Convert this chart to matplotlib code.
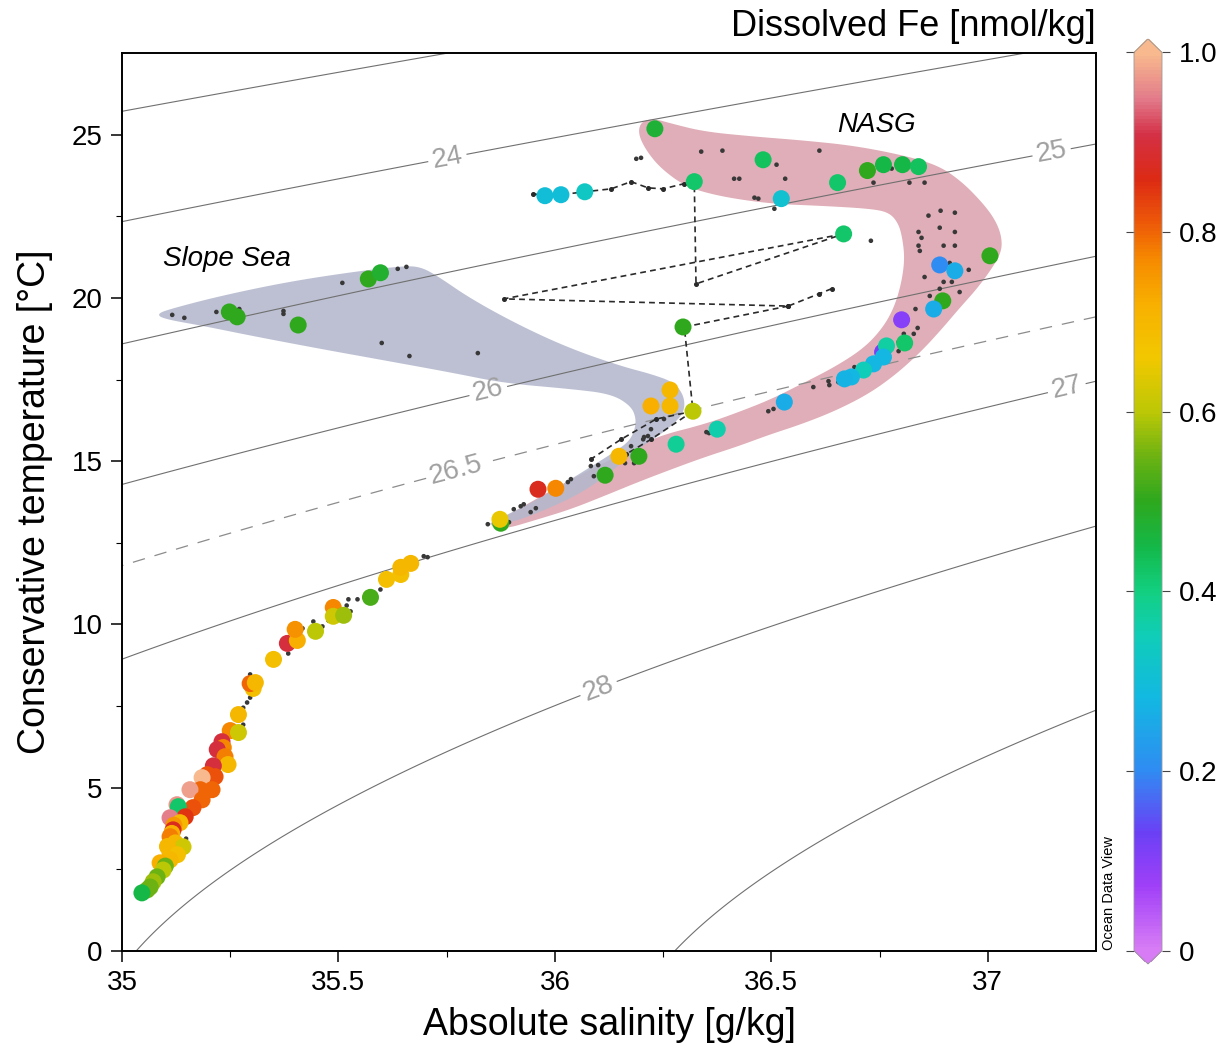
import numpy as np
import matplotlib
matplotlib.use("Agg")
import matplotlib.pyplot as plt
from matplotlib.colors import LinearSegmentedColormap, Normalize
from matplotlib.patches import Polygon
import matplotlib.cm as cm

plt.rcParams['font.family'] = ['Liberation Sans', 'DejaVu Sans']

# ---------------- data ----------------
# Coloured samples: absolute salinity [g/kg], conservative temperature [degC], dissolved Fe [nmol/kg]
fe_sal = [
    # deep / intermediate cluster
    35.269, 35.250, 35.269, 35.231, 35.234, 35.220, 35.238, 35.245, 35.211, 35.197,
    35.215, 35.185, 35.181, 35.208, 35.157, 35.185, 35.164, 35.127, 35.130, 35.146,
    35.111, 35.134, 35.120, 35.118, 35.115, 35.111, 35.123, 35.141, 35.105, 35.111,
    35.128, 35.111, 35.088, 35.100, 35.095, 35.081, 35.072, 35.065, 35.058, 35.046,
    # lower branch
    35.303, 35.296, 35.308, 35.350, 35.382, 35.405, 35.400, 35.447, 35.488, 35.488,
    35.512, 35.574, 35.611, 35.644, 35.644, 35.667,
    # slope sea
    35.248, 35.266, 35.407, 35.569, 35.597,
    # cyan station
    35.977, 36.014, 36.069,
    # NASG upper
    36.231, 36.322, 36.481, 36.523, 36.653, 36.722, 36.759, 36.803, 36.840, 37.005,
    36.667,
    # NASG lower
    36.889, 36.924, 36.896, 36.875, 36.801, 36.808, 36.757, 36.766, 36.759, 36.736,
    36.713, 36.685, 36.669, 36.530, 36.375, 36.280,
    # middle / tip
    36.296, 36.319, 36.266, 36.222, 36.266, 36.194, 36.148, 36.116, 36.002, 35.961,
    35.875, 35.873,
]
fe_temp = [
    7.24, 6.75, 6.69, 6.41, 6.23, 6.17, 5.95, 5.71, 5.67, 5.40,
    5.34, 5.31, 4.94, 4.94, 4.94, 4.63, 4.39, 4.48, 4.42, 4.11,
    4.08, 3.93, 3.85, 3.71, 3.60, 3.50, 3.31, 3.19, 3.20, 3.01,
    2.95, 2.79, 2.70, 2.60, 2.48, 2.27, 2.12, 1.96, 1.87, 1.78,
    8.04, 8.19, 8.22, 8.93, 9.42, 9.51, 9.85, 9.79, 10.52, 10.25,
    10.28, 10.83, 11.38, 11.53, 11.75, 11.87,
    19.57, 19.42, 19.17, 20.58, 20.77,
    23.13, 23.16, 23.25,
    25.18, 23.56, 24.23, 23.04, 23.53, 23.90, 24.08, 24.08, 24.02, 21.29,
    21.96,
    21.01, 20.83, 19.91, 19.66, 19.33, 18.62, 18.34, 18.53, 18.19, 17.98,
    17.79, 17.58, 17.52, 16.81, 15.98, 15.52,
    19.11, 16.53, 17.18, 16.69, 16.69, 15.15, 15.15, 14.57, 14.17, 14.14,
    13.10, 13.22,
]
fe_val = [
    0.70, 0.77, 0.62, 0.90, 0.77, 0.90, 0.78, 0.70, 0.90, 0.82,
    0.82, 1.00, 0.80, 0.80, 0.98, 0.80, 0.82, 0.97, 0.42, 0.85,
    0.95, 0.70, 0.75, 0.87, 0.72, 0.78, 0.70, 0.62, 0.70, 0.70,
    0.68, 0.70, 0.72, 0.55, 0.60, 0.55, 0.58, 0.55, 0.55, 0.45,
    0.68, 0.80, 0.70, 0.68, 0.90, 0.72, 0.76, 0.60, 0.77, 0.62,
    0.58, 0.52, 0.68, 0.68, 0.70, 0.70,
    0.50, 0.50, 0.50, 0.50, 0.48,
    0.30, 0.30, 0.33,
    0.47, 0.42, 0.43, 0.31, 0.42, 0.50, 0.45, 0.45, 0.43, 0.50,
    0.42,
    0.20, 0.26, 0.50, 0.26, 0.10, 0.42, 0.12, 0.37, 0.28, 0.28,
    0.35, 0.28, 0.27, 0.26, 0.36, 0.38,
    0.50, 0.60, 0.70, 0.72, 0.70, 0.50, 0.70, 0.50, 0.77, 0.87,
    0.50, 0.65,
]

# Samples without Fe (small black dots)
dot_sal = [
    35.116, 35.144, 35.218, 35.271, 35.373, 35.373, 35.509, 35.637, 35.657, 35.600,
    35.664, 35.822,
    36.188, 36.199, 36.338, 36.387, 36.611, 36.512, 36.414, 36.426, 36.532, 36.461,
    36.470, 36.507, 36.736, 36.819, 36.854, 36.778, 36.891, 36.924, 36.863, 36.889,
    36.924, 36.840, 36.847, 36.840, 36.843, 36.898, 36.924, 36.912, 36.956, 36.854,
    36.898, 36.917, 36.935, 36.889, 36.866, 36.833, 36.838, 36.806, 36.829, 36.794,
    36.794, 36.692, 36.597, 36.632, 36.634, 36.655, 36.493, 36.505, 36.350, 36.356,
    36.252, 36.222, 36.206, 36.215, 36.204, 36.176, 36.162, 36.183, 36.083, 36.100,
    36.090, 36.037, 36.030, 35.928, 35.921, 35.905, 35.944, 35.956, 35.845, 35.894,
    36.730,
    35.697, 35.706, 35.597, 35.544, 35.523, 35.519, 35.528, 35.477, 35.463, 35.442,
    35.417, 35.384, 35.296, 35.289, 35.296, 35.280, 35.280, 35.148,
]
dot_temp = [
    19.48, 19.39, 19.57, 19.66, 19.60, 19.51, 20.46, 20.89, 20.95, 18.62,
    18.22, 18.31,
    24.26, 24.29, 24.48, 24.51, 24.51, 24.08, 23.65, 23.65, 23.65, 23.07,
    23.04, 22.73, 23.53, 23.53, 23.53, 23.96, 22.67, 22.61, 22.52, 22.15,
    22.02, 22.02, 21.84, 21.60, 21.44, 21.60, 21.60, 21.07, 20.86, 20.64,
    20.49, 20.49, 20.18, 20.28, 20.06, 19.66, 19.08, 18.90, 18.90, 18.65,
    18.37, 17.88, 17.27, 17.45, 17.33, 17.42, 16.53, 16.60, 15.89, 15.86,
    16.29, 15.98, 15.74, 15.77, 15.67, 15.46, 14.94, 14.94, 14.85, 14.88,
    14.54, 14.45, 14.36, 13.68, 13.62, 13.53, 13.44, 13.56, 13.07, 13.13,
    21.75,
    12.09, 12.06, 11.07, 10.77, 10.77, 10.58, 10.40, 10.12, 9.94, 10.09,
    9.88, 9.11, 8.47, 7.61, 7.76, 7.45, 6.93, 3.44,
]

# Dashed station profiles
prof1_sal = [35.949, 35.977, 36.014, 36.069, 36.130, 36.176, 36.215, 36.250, 36.299, 36.322, 36.326, 36.667]
prof1_temp = [23.19, 23.13, 23.16, 23.25, 23.34, 23.56, 23.37, 23.34, 23.50, 23.56, 20.43, 21.96]
prof2_sal = [36.639, 36.609, 36.539, 35.882, 36.667]
prof2_temp = [20.28, 20.12, 19.75, 19.97, 21.96]
prof3_sal = [36.539, 36.299, 36.319, 36.234, 36.153, 36.083]
prof3_temp = [19.75, 19.11, 16.53, 16.29, 15.67, 15.06]
prof4_sal = [36.319, 36.222, 36.164]
prof4_temp = [16.53, 15.67, 15.21]

# Water-mass envelopes
slope_sal = [35.081, 35.111, 35.227, 35.382, 35.535, 35.650, 35.690, 35.729, 35.806, 35.921,
             36.037, 36.153, 36.222, 36.275, 36.299, 36.299, 36.269, 36.238, 36.192, 36.146,
             36.076, 35.998, 35.905, 35.836, 35.882, 35.961, 36.037, 36.100, 36.137, 36.169,
             36.183, 36.188, 36.176, 36.130, 36.037, 35.882, 35.766, 35.613, 35.458, 35.303,
             35.188, 35.095]
slope_temp = [19.51, 19.66, 20.06, 20.49, 20.80, 20.98, 20.95, 20.67, 19.97, 19.14,
              18.44, 17.91, 17.67, 17.42, 16.99, 16.50, 16.07, 15.77, 15.37, 14.85,
              14.14, 13.62, 13.13, 13.01, 13.31, 13.83, 14.45, 14.97, 15.28, 15.58,
              15.89, 16.29, 16.69, 17.06, 17.21, 17.39, 17.70, 18.07, 18.44, 18.83,
              19.14, 19.36]
nasg_sal = [36.199, 36.229, 36.269, 36.345, 36.461, 36.576, 36.692, 36.808, 36.887, 36.940,
            36.986, 37.016, 37.032, 37.032, 37.009, 36.975, 36.933, 36.894, 36.847, 36.789,
            36.725, 36.646, 36.569, 36.493, 36.424, 36.345, 36.269, 36.192, 36.113, 36.037,
            35.961, 35.882, 35.847, 35.875, 35.968, 36.060, 36.153, 36.238, 36.345, 36.424,
            36.500, 36.569, 36.646, 36.715, 36.759, 36.785, 36.801, 36.808, 36.803, 36.794,
            36.773, 36.731, 36.616, 36.500, 36.384, 36.303, 36.245, 36.211, 36.192]
nasg_temp = [25.40, 25.49, 25.34, 25.09, 24.94, 24.82, 24.66, 24.36, 24.05, 23.56,
             22.94, 22.42, 21.90, 21.41, 20.89, 20.28, 19.66, 19.05, 18.37, 17.67,
             17.06, 16.53, 16.13, 15.80, 15.46, 15.12, 14.75, 14.36, 13.93, 13.53,
             13.22, 12.91, 13.01, 13.22, 13.93, 14.60, 15.21, 15.77, 16.13, 16.50,
             16.90, 17.36, 17.88, 18.47, 19.11, 19.75, 20.49, 21.20, 21.81, 22.27,
             22.61, 22.73, 22.82, 22.88, 23.10, 23.40, 23.96, 24.51, 25.03]

sigma_levels_labelled = [24, 25, 26, 27, 28]
sigma_levels_plain = [23, 29]
sigma_level_dashed = [26.5]
x_ticks = [35, 35.5, 36, 36.5, 37]
x_ticklabels = ['35', '35.5', '36', '36.5', '37']
y_ticks = [0, 5, 10, 15, 20, 25]
cbar_ticks = [0, 0.2, 0.4, 0.6, 0.8, 1.0]
cbar_ticklabels = ['0', '0.2', '0.4', '0.6', '0.8', '1.0']

# ---------------- helpers ----------------
def sigma0(SA, CT):
    SP = SA * 35.0 / 35.16504
    T = CT
    rho_w = (999.842594 + 6.793952e-2 * T - 9.095290e-3 * T**2 + 1.001685e-4 * T**3
             - 1.120083e-6 * T**4 + 6.536332e-9 * T**5)
    A = 0.824493 - 4.0899e-3 * T + 7.6438e-5 * T**2 - 8.2467e-7 * T**3 + 5.3875e-9 * T**4
    B = -5.72466e-3 + 1.0227e-4 * T - 1.6546e-6 * T**2
    C = 4.8314e-4
    return rho_w + A * SP + B * SP**1.5 + C * SP**2 - 1000.0


def chaikin(x, y, n=3):
    pts = np.column_stack([x, y]).astype(float)
    for _ in range(n):
        nxt = np.roll(pts, -1, axis=0)
        q = 0.75 * pts + 0.25 * nxt
        r = 0.25 * pts + 0.75 * nxt
        new = np.empty((2 * len(pts), 2))
        new[0::2] = q
        new[1::2] = r
        pts = new
    return pts


cmap = LinearSegmentedColormap.from_list('odv', [
    (0.00, '#d77cf5'), (0.07, '#a040f8'), (0.13, '#6a40f5'), (0.20, '#2f8cf2'),
    (0.28, '#12b8e2'), (0.35, '#10cdb8'), (0.40, '#12cf80'), (0.45, '#14b848'),
    (0.50, '#2ea81e'), (0.55, '#6cb212'), (0.60, '#bcc806'), (0.66, '#f2c800'),
    (0.72, '#f8b000'), (0.77, '#f68a00'), (0.81, '#ee5a08'), (0.86, '#dc2a14'),
    (0.91, '#d43046'), (0.95, '#e27a8a'), (1.00, '#f8b98e')])
norm = Normalize(0, 1)

# ---------------- figure ----------------
W, H = 1223, 1048
fig = plt.figure(figsize=(W / 100, H / 100), dpi=100)
ax = fig.add_axes([122 / W, 1 - 951 / H, 974 / W, 898 / H])
ax.set_xlim(35, 37.25)
ax.set_ylim(0, 27.5)

# envelopes
ax.add_patch(Polygon(chaikin(nasg_sal, nasg_temp), closed=True, facecolor='#e0aeb8',
                     edgecolor='none', zorder=0.5))
ax.add_patch(Polygon(chaikin(slope_sal, slope_temp), closed=True, facecolor='#b4b8cc',
                     edgecolor='none', alpha=0.88, zorder=0.6))

# density contours
sg = np.linspace(35, 37.25, 400)
tg = np.linspace(0, 27.5, 400)
SS, TT = np.meshgrid(sg, tg)
D = sigma0(SS, TT)
cs = ax.contour(SS, TT, D, levels=sigma_levels_labelled, colors='#707070', linewidths=0.8, zorder=1)
ax.contour(SS, TT, D, levels=sigma_levels_plain, colors='#707070', linewidths=0.8, zorder=1)
cs2 = ax.contour(SS, TT, D, levels=sigma_level_dashed, colors='#8c8c8c', linewidths=0.9,
                 linestyles=[(0, (10, 8))], zorder=1)
ax.clabel(cs, fmt='%g', fontsize=20, colors='#a0a0a0', inline=True, inline_spacing=4,
          manual=[(35.752, 24.26), (37.148, 24.42), (35.845, 17.21), (37.183, 17.21), (36.100, 8.07)])
ax.clabel(cs2, fmt='%g', fontsize=20, colors='#a0a0a0', inline=True,
          inline_spacing=4, manual=[(35.771, 14.75)])

# profiles
for xs, ys in [(prof1_sal, prof1_temp), (prof2_sal, prof2_temp),
               (prof3_sal, prof3_temp), (prof4_sal, prof4_temp)]:
    ax.plot(xs, ys, color='#2a2a2a', lw=1.2, ls=(0, (3.5, 2.5)), marker='o', ms=2.6,
            zorder=2)

ax.scatter(dot_sal, dot_temp, s=11, color='#383838', edgecolors='none', zorder=3)
ax.scatter(fe_sal, fe_temp, c=fe_val, cmap=cmap, norm=norm, s=150, edgecolors='none',
           zorder=4)

# region labels
ax.text(35.095, 21.2, 'Slope Sea', fontsize=20, style='italic', ha='left', va='center', zorder=5)
ax.text(36.743, 25.3, 'NASG', fontsize=20, style='italic', ha='center', va='center', zorder=5)

# axes styling
ax.set_xticks(x_ticks)
ax.set_xticklabels(x_ticklabels)
ax.set_yticks(y_ticks)
ax.set_xticks(np.arange(35.25, 37.25, 0.5), minor=True)
ax.set_yticks(np.arange(2.5, 27.5, 5), minor=True)
ax.tick_params(which='major', direction='out', length=8, width=1.1, labelsize=20, pad=6)
ax.tick_params(which='minor', direction='out', length=4, width=0.8)
for sp in ax.spines.values():
    sp.set_linewidth(1.4)
ax.set_xlabel('Absolute salinity [g/kg]', fontsize=27)
ax.set_ylabel('Conservative temperature [°C]', fontsize=27)
ax.xaxis.set_label_coords(0.5, -0.062)
ax.yaxis.set_label_coords(-0.071, 0.5)

# colorbar
cax = fig.add_axes([1134 / W, 1 - 964 / H, 28 / W, 925 / H])
sm = cm.ScalarMappable(norm=norm, cmap=cmap)
cb = fig.colorbar(sm, cax=cax, extend='both', extendfrac=0.015)
cb.set_ticks(cbar_ticks)
cb.set_ticklabels(cbar_ticklabels)
cb.outline.set_edgecolor('#9a9a9a')
cb.outline.set_linewidth(0.6)
cax.tick_params(labelsize=20, length=6, width=0.8, color='#444444', left=True, right=True,
                direction='out', pad=6)

fig.text(1096 / W, 1 - 27 / H, 'Dissolved Fe [nmol/kg]', ha='right', va='center', fontsize=26)
fig.text(1109 / W, 1 - 950 / H, 'Ocean Data View', rotation=90, ha='center', va='bottom',
         fontsize=10.5)

fig.savefig('out.png', dpi=100)
